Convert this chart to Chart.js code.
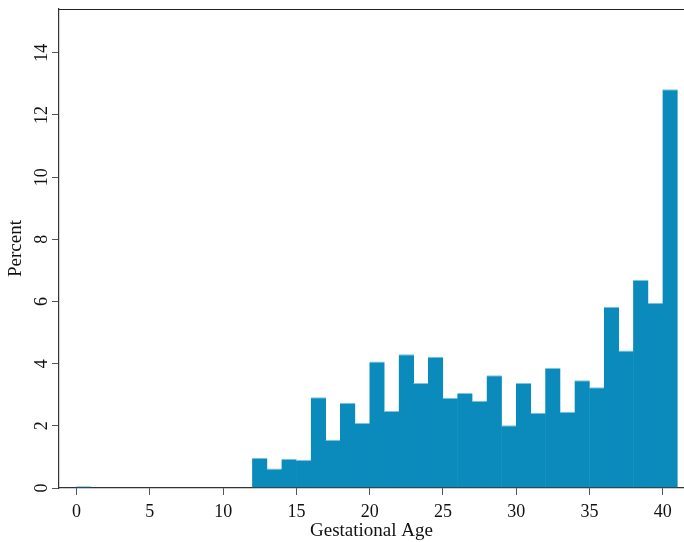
<!DOCTYPE html>
<html>
<head>
<meta charset="utf-8">
<script src="https://cdn.jsdelivr.net/npm/chart.js@4/dist/chart.umd.min.js"></script>
<style>
  html, body { margin: 0; padding: 0; background: #fff; }
  #wrap { width: 684px; height: 542px; }
</style>
</head>
<body>
<div id="wrap"><canvas id="histChart"></canvas></div>
<script>
// bin left edges (weeks), width 1
const binStarts = [0, 1, 2, 3, 4, 5, 6, 7, 8, 9, 10, 11, 12, 13, 14, 15, 16, 17, 18, 19, 20,
    21, 22, 23, 24, 25, 26, 27, 28, 29, 30, 31, 32, 33, 34, 35, 36, 37, 38, 39, 40];
const percents = [0.06, 0, 0, 0, 0, 0, 0, 0, 0, 0, 0, 0,
    0.97, 0.63, 0.94, 0.90, 2.92, 1.55, 2.74, 2.09, 4.07, 2.48, 4.30, 3.38, 4.22,
    2.90, 3.06, 2.81, 3.63, 2.02, 3.38, 2.42, 3.86, 2.45, 3.47, 3.24,
    5.83, 4.42, 6.69, 5.96, 12.83];
const xTicks = [0, 5, 10, 15, 20, 25, 30, 35, 40];
const yTicks = [0, 2, 4, 6, 8, 10, 12, 14];

const barFill = '#0a8bbc';
const barEdge = '#7cc3e0';
const axisGray = '#555555';
const fontFamily = '"Liberation Serif", "Times New Roman", serif';
const font = { family: fontFamily, size: 18 };

const histData = binStarts.map(function (b, i) {
    return { x: b + 0.5, y: percents[i] };
});

// top frame line + rotated y labels (Stata style)
const frameAndYLabels = {
    id: 'frameAndYLabels',
    afterDraw(chart) {
        const a = chart.chartArea;
        const ctx = chart.ctx;
        const y = chart.scales.y;
        ctx.save();
        ctx.strokeStyle = '#222';
        ctx.lineWidth = 1.2;
        ctx.beginPath();
        ctx.moveTo(a.left, a.top + 0.5);
        ctx.lineTo(a.right, a.top + 0.5);
        ctx.stroke();

        ctx.fillStyle = '#111';
        ctx.textAlign = 'center';
        ctx.textBaseline = 'middle';
        ctx.font = '18px ' + fontFamily;
        yTicks.forEach(function (v) {
            ctx.save();
            ctx.translate(41, y.getPixelForValue(v));
            ctx.rotate(-Math.PI / 2);
            ctx.fillText(String(v), 0, 1);
            ctx.restore();
        });

        ctx.font = '19px ' + fontFamily;
        ctx.save();
        ctx.translate(16, (a.top + a.bottom) / 2);
        ctx.rotate(-Math.PI / 2);
        ctx.fillText('Percent', 0, 0);
        ctx.restore();
        ctx.restore();
    }
};

new Chart(document.getElementById('histChart'), {
    type: 'bar',
    data: {
        datasets: [{
            data: histData,
            backgroundColor: barFill,
            borderColor: barEdge,
            borderWidth: { top: 1, left: 0, right: 0, bottom: 0 },
            borderSkipped: false,
            barPercentage: 1.05,
            categoryPercentage: 1
        }]
    },
    options: {
        responsive: true,
        maintainAspectRatio: false,
        animation: false,
        layout: { padding: { top: 9, right: 0, left: 0, bottom: 0 } },
        plugins: {
            legend: { display: false },
            tooltip: { enabled: false }
        },
        scales: {
            x: {
                type: 'linear',
                offset: false,
                min: -1.2,
                max: 41.45,
                afterBuildTicks: function (scale) {
                    scale.ticks = xTicks.map(function (v) { return { value: v }; });
                },
                afterFit: function (scale) { scale.height = 54; },
                ticks: {
                    font: font,
                    color: '#111',
                    padding: 6,
                    maxRotation: 0,
                    autoSkip: false
                },
                grid: {
                    display: true,
                    offset: false,
                    drawOnChartArea: false,
                    drawTicks: true,
                    tickLength: 7,
                    color: axisGray
                },
                border: { display: true, color: '#333', width: 1.2 },
                title: {
                    display: true,
                    text: 'Gestational Age',
                    font: { family: fontFamily, size: 19 },
                    color: '#111',
                    padding: { top: -6, bottom: 0 }
                }
            },
            y: {
                min: 0,
                max: 15.41,
                afterBuildTicks: function (scale) {
                    scale.ticks = yTicks.map(function (v) { return { value: v }; });
                },
                afterFit: function (scale) { scale.width = 59; },
                ticks: { display: false },
                grid: {
                    display: true,
                    offset: false,
                    drawOnChartArea: false,
                    drawTicks: true,
                    tickLength: 7,
                    color: axisGray
                },
                border: { display: true, color: '#333', width: 1.2 },
                title: { display: false }
            }
        }
    },
    plugins: [frameAndYLabels]
});
</script>
</body>
</html>
